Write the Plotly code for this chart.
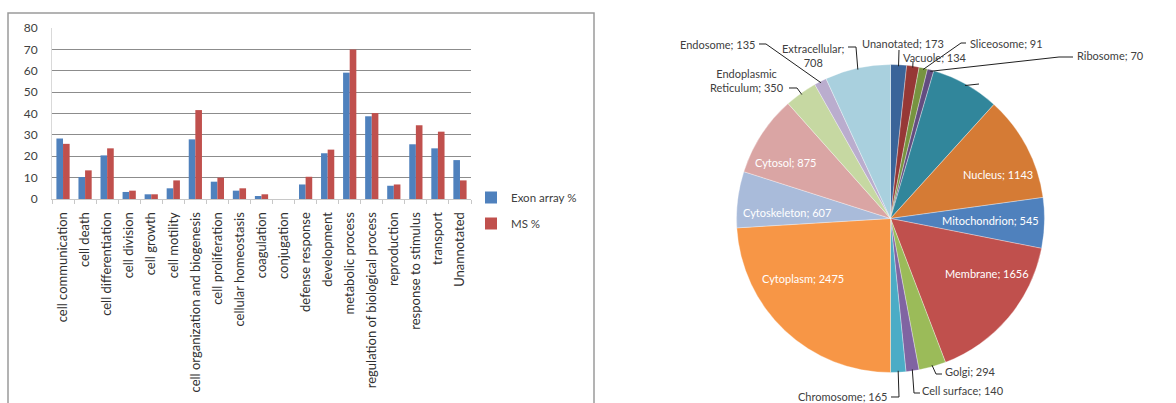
import math
import plotly.graph_objects as go

W, H = 1176, 403

# ---- GO process bar chart data ----
categories = [
    "cell communication", "cell death", "cell differentiation", "cell division",
    "cell growth", "cell motility", "cell organization and biogenesis",
    "cell proliferation", "cellular homeostasis", "coagulation", "conjugation",
    "defense response", "development", "metabolic process",
    "regulation of biological process", "reproduction", "response to stimulus",
    "transport", "Unannotated",
]
exon_pct = [28.3, 10.3, 20.4, 3.3, 2.2, 5.0, 27.9, 8.1, 3.9, 1.4, 0.0,
            6.8, 21.4, 59.1, 38.7, 6.2, 25.6, 23.7, 18.2]
ms_pct = [25.8, 13.4, 23.7, 3.9, 2.2, 8.7, 41.6, 10.0, 5.0, 2.2, 0.0,
          10.4, 23.1, 70.0, 40.2, 6.8, 34.5, 31.5, 8.7]
y_ticks = [0, 10, 20, 30, 40, 50, 60, 70, 80]

# ---- cellular component pie data (clockwise from 12 o'clock) ----
pie_labels = [
    "Unanotated", "Vacuole", "Sliceosome", "Ribosome", "", "Nucleus",
    "Mitochondrion", "Membrane", "Golgi", "Cell surface", "Chromosome",
    "Cytoplasm", "Cytoskeleton", "Cytosol", "Endoplasmic Reticulum",
    "Endosome", "Extracellular",
]
pie_values = [173, 134, 91, 70, 739, 1143, 545, 1656, 294, 140, 165,
              2475, 607, 875, 350, 135, 708]

pie_colors = [
    "#3B6499", "#963836", "#779440", "#634D80", "#31869B", "#D57B35",
    "#4F81BD", "#C0504D", "#9BBB59", "#8064A2", "#4BACC6", "#F79646",
    "#A9BBDA", "#DAA5A4", "#C6D8A2", "#BAADCE", "#A9D0DE",
]

FONT = "Lato, Carlito, Calibri, sans-serif"
BAR_BLUE, BAR_RED = "#4F81BD", "#C0504D"


def px(x):
    return x / W


def py(y):
    return 1 - y / H


fig = go.Figure()

# grouped bars
fig.add_trace(go.Bar(x=categories, y=exon_pct, name="Exon array %",
                     marker=dict(color=BAR_BLUE, line=dict(width=0)),
                     legendgroup="a"))
fig.add_trace(go.Bar(x=categories, y=ms_pct, name="MS %",
                     marker=dict(color=BAR_RED, line=dict(width=0)),
                     legendgroup="b"))

# pie geometry in pixels
CX, CY, R = 890.5, 218.5, 154
fig.add_trace(go.Pie(
    labels=[lbl if lbl else "\u200b" for lbl in pie_labels],
    values=pie_values,
    sort=False,
    direction="clockwise",
    rotation=0,
    marker=dict(colors=pie_colors, line=dict(color="rgba(255,255,255,0.55)", width=0.6)),
    textinfo="none",
    showlegend=False,
    hoverinfo="label+value",
    domain=dict(x=[px(CX - R), px(CX + R)], y=[py(CY + R), py(CY - R)]),
))

total = sum(pie_values)
mid_angle = {}
acc = 0
for lbl, v in zip(pie_labels, pie_values):
    mid_angle[lbl] = (acc + v / 2) / total * 2 * math.pi
    acc += v


def edge(lbl, k=1.0):
    a = mid_angle[lbl]
    return CX + R * k * math.sin(a), CY - R * k * math.cos(a)


value_of = dict(zip(pie_labels, pie_values))

annotations = []
shapes = []

# inside (white) labels: label -> text centre in pixels
inside_pos = {
    "Nucleus": (998, 174), "Mitochondrion": (990, 220), "Membrane": (987, 273),
    "Cytoplasm": (803, 278), "Cytoskeleton": (787, 212), "Cytosol": (785, 162),
}
for lbl, (x, y) in inside_pos.items():
    annotations.append(dict(
        x=px(x), y=py(y), xref="paper", yref="paper", showarrow=False,
        text=f"{lbl}; {value_of[lbl]}", font=dict(family=FONT, size=11, color="white"),
        xanchor="center", yanchor="middle"))

# outside labels: label -> (text anchor x, y, xanchor, leader bend points)
outside = {
    "Endosome": ((757, 44), "right", [(759, 44), (766, 44)]),
    "Extracellular": ((813, 55), "center", [(848, 47), (856, 47)]),
    "Endoplasmic Reticulum": ((747, 80), "center", [(789, 88), (797, 88)]),
    "Unanotated": ((860, 43), "left", [(899, 50)]),
    "Vacuole": ((901, 57), "left", [(913, 62)]),
    "Sliceosome": ((968, 43), "left", [(966, 43), (961, 43)]),
    "Ribosome": ((1075, 56), "left", [(1073, 57), (1059, 57)]),
    "Golgi": ((943, 371), "left", [(942, 374), (936, 374)]),
    "Cell surface": ((920, 390), "left", [(920, 393), (914, 393)]),
    "Chromosome": ((889, 396), "right", [(891, 397), (899, 397)]),
}
text_override = {
    "Extracellular": "Extracellular;<br>708",
    "Endoplasmic Reticulum": "Endoplasmic<br>Reticulum; 350",
}
for lbl, ((x, y), anchor, pts) in outside.items():
    annotations.append(dict(
        x=px(x), y=py(y), xref="paper", yref="paper", showarrow=False,
        text=text_override.get(lbl, f"{lbl}; {value_of[lbl]}"),
        font=dict(family=FONT, size=11, color="#404040"),
        xanchor=anchor, yanchor="middle", align="center"))
    ex, ey = edge(lbl, 0.99)
    path_pts = pts + [(ex, ey)]
    d = "M " + " L ".join(f"{px(a):.5f},{py(b):.5f}" for a, b in path_pts)
    shapes.append(dict(type="path", path=d, xref="paper", yref="paper",
                       line=dict(color="#202020", width=1)))

# leader of the unlabelled slice
ex, ey = edge("", 0.99)
shapes.append(dict(type="path", xref="paper", yref="paper",
                   path=f"M {px(ex):.5f},{py(ey):.5f} L {px(979):.5f},{py(84):.5f}",
                   line=dict(color="#202020", width=1)))

# chart-area frame around the bar chart
shapes.append(dict(type="path", xref="paper", yref="paper",
                   path=f"M {px(8)},{py(410)} L {px(8)},{py(13)} L {px(594)},{py(13)} L {px(594)},{py(410)}",
                   line=dict(color="#9a9a9a", width=1.5)))

fig.update_layout(
    width=W, height=H,
    margin=dict(l=0, r=0, t=0, b=0, autoexpand=False),
    paper_bgcolor="white", plot_bgcolor="white",
    barmode="group", bargap=0.4, bargroupgap=0.0,
    font=dict(family=FONT, size=11, color="#404040"),
    xaxis=dict(domain=[px(52), px(471)], type="category", automargin=False,
               tickangle=-90, tickfont=dict(family=FONT, size=13, color="#303030"),
               showline=True, linecolor="#c8c8c8", linewidth=1,
               ticks="outside", tickson="boundaries", ticklen=4, tickcolor="#c8c8c8",
               ticklabelstandoff=7,
               showgrid=False, zeroline=False, fixedrange=True),
    yaxis=dict(domain=[py(199), py(28)], range=[0, 80], tickvals=y_ticks, automargin=False,
               tickfont=dict(family=FONT, size=12, color="#404040"),
               showgrid=True, gridcolor="#8c8c8c", gridwidth=1,
               showline=True, linecolor="#d9d9d9", linewidth=1,
               zeroline=False, ticks="", ticklabelstandoff=11, fixedrange=True),
    legend=dict(x=px(471), y=py(183), xanchor="left", yanchor="top",
                font=dict(family=FONT, size=11.5, color="#404040"),
                tracegroupgap=7, itemwidth=30, bgcolor="rgba(0,0,0,0)"),
    annotations=annotations,
    shapes=shapes,
)

fig.write_html("out.html")
